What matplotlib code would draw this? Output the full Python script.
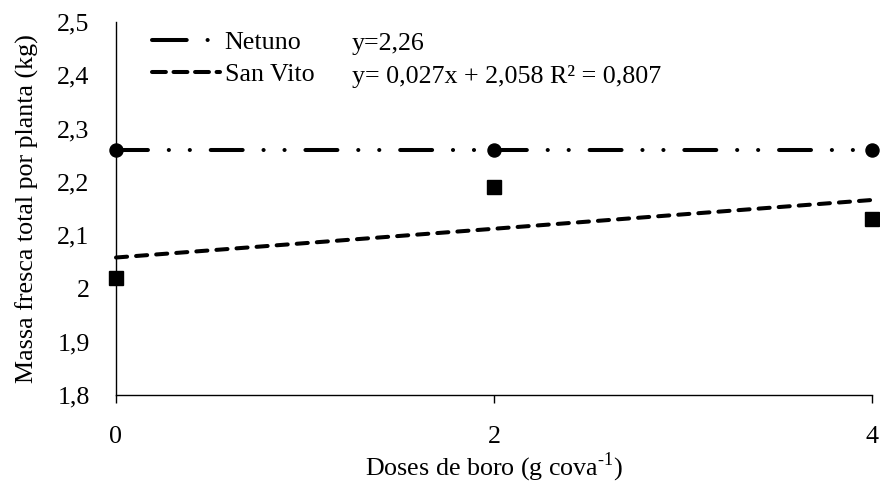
import matplotlib
matplotlib.use("Agg")
import matplotlib.pyplot as plt
from matplotlib.lines import Line2D
import numpy as np

plt.rcParams['font.family'] = ['Liberation Serif', 'DejaVu Serif']
plt.rcParams['lines.scale_dashes'] = False

doses = [0, 2, 4]
netuno = [2.26, 2.26, 2.26]
san_vito = [2.02, 2.19, 2.13]
netuno_eq = "y=2,26"
san_vito_eq = "y= 0,027x + 2,058 R² = 0,807"
sv_slope, sv_intercept = 0.027, 2.058
netuno_mean = 2.26
yticks = [1.8, 1.9, 2.0, 2.1, 2.2, 2.3, 2.4, 2.5]
ytick_labels = ["1,8", "1,9", "2", "2,1", "2,2", "2,3", "2,4", "2,5"]
xticks = [0, 2, 4]

FS = 18.7

fig = plt.figure(figsize=(8.8, 4.87), dpi=100)
ax = fig.add_axes([116/880, 1-395/487, 756/880, 373/487])

nt_dash = (0, (23, 15, 0.1, 15, 0.1, 15))
sv_dash = (0, (8, 6.5))

xs = np.array([0, 4])
ax.plot(xs, [netuno_mean]*2, color='black', lw=2.9, linestyle=nt_dash,
        dash_capstyle='round', clip_on=False)
ax.plot(xs, sv_slope*xs + sv_intercept, color='black', lw=2.9, linestyle=sv_dash,
        dash_capstyle='round', clip_on=False)
ax.plot(doses, netuno, 'o', color='black', ms=9.4, clip_on=False, zorder=5)
ax.plot(doses, san_vito, 's', color='black', ms=10, clip_on=False, zorder=5)

ax.set_xlim(0, 4)
ax.set_ylim(1.8, 2.5)
ax.set_xticks(xticks)
ax.set_xticklabels([str(x) for x in xticks])
ax.set_yticks(yticks)
ax.set_yticklabels(ytick_labels)
ax.tick_params(axis='y', length=0, pad=19, labelsize=FS)
ax.tick_params(axis='x', length=5.5, width=1, direction='out', pad=17, labelsize=FS)
for s in ['top', 'right']:
    ax.spines[s].set_visible(False)
for s in ['left', 'bottom']:
    ax.spines[s].set_linewidth(1)

ax.set_ylabel("Massa fresca total por planta (kg)", fontsize=FS, labelpad=13)
ax.set_xlabel("Doses de boro (g cova$^{\\mathregular{\u2010}\\mathregular{1}}$)", fontsize=FS, labelpad=2)

h1 = Line2D([], [], color='black', lw=2.9, linestyle=(0, (25, 15, 0.1, 40)), dash_capstyle='round')
h2 = Line2D([], [], color='black', lw=2.9, linestyle=(0, (10, 5.5)), dash_capstyle='round')
leg = ax.legend([h1, h2], ["Netuno", "San Vito"], loc='upper left',
                bbox_to_anchor=((152-116)/756, 1-(31-22)/373), frameon=False, fontsize=FS,
                handlelength=2.6, handletextpad=0.2, labelspacing=0.33,
                borderaxespad=0, borderpad=0)

ax.text((352-116)/756, 1-(50-22)/373, netuno_eq, transform=ax.transAxes,
        fontsize=FS, va='baseline', ha='left')
ax.text((352-116)/756, 1-(83-22)/373, san_vito_eq, transform=ax.transAxes,
        fontsize=FS, va='baseline', ha='left')

fig.savefig("out.png", dpi=100)
